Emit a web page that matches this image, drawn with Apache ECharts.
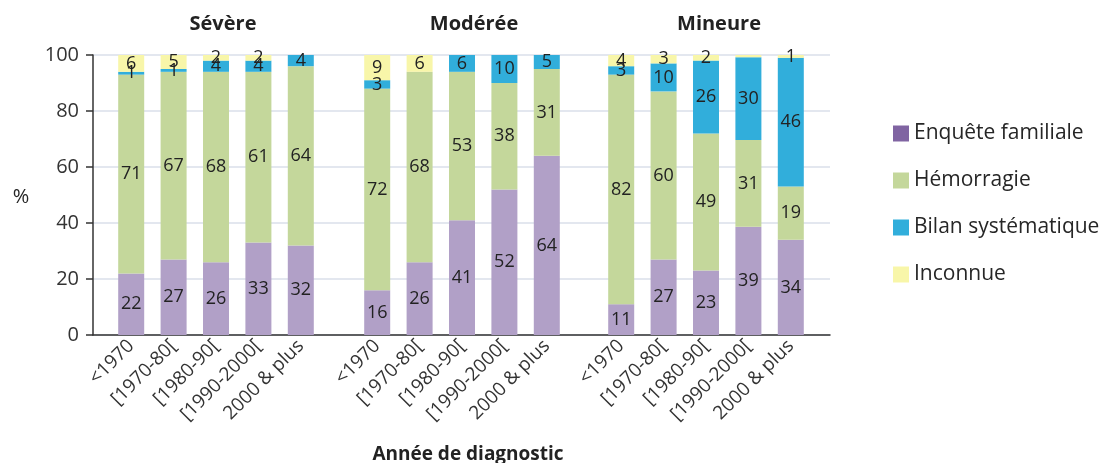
<!DOCTYPE html>
<html>
<head>
<meta charset="utf-8">
<script src="https://cdn.jsdelivr.net/npm/echarts@6/dist/echarts.min.js"></script>
<style>
  html, body { margin: 0; padding: 0; background: #fff; }
  #main { width: 1112px; height: 463px; }
</style>
</head>
<body>
<div id="main"></div>
<script>
var categories = ['<1970', '[1970-80[', '[1980-90[', '[1990-2000[', '2000 & plus'];
var groups = ['Sévère', 'Modérée', 'Mineure'];
var seriesNames = ['Enquête familiale', 'Hémorragie', 'Bilan systématique', 'Inconnue'];

// one row per group (Sévère, Modérée, Mineure); labels are rounded
var enquete = [[22, 27, 26, 33, 32], [16, 26, 41, 52, 64], [11, 27, 23, 38.7, 34]];
var hemorragie = [[71, 67, 68, 61, 64], [72, 68, 53, 38, 31], [82, 60, 49, 30.9, 19]];
var bilan = [[1, 1, 4, 4, 4], [3, 0, 6, 10, 5], [3, 10, 26, 29.6, 46]];
var inconnue = [[6, 5, 2, 2, 0], [9, 6, 0, 0, 0], [4, 3, 2, 0.8, 1]];
// [group, layer, bar] whose label is not printed in the source
var unlabelled = [[2, 3, 3]];

var yTicks = [0, 20, 40, 60, 80, 100];

var FONT = '"Open Sans", sans-serif';
var barColors = ['#b1a0c7', '#c4d79b', '#31aedb', '#f8f6a9'];
var legendColors = ['#8064a2', '#c4d79b', '#31aedb', '#f8f6a9'];
var layers = [enquete, hemorragie, bilan, inconnue];

// bar grids (left px, width px)
var gridPos = [[110, 212], [356, 212], [600, 212]];
var titleX = [223, 474, 719];

var grids = [{ left: 93, right: 282, top: 55, bottom: 128 }];
var xAxes = [{
  gridIndex: 0, type: 'value', min: 0, max: 1,
  axisLine: { show: true, lineStyle: { color: '#333', width: 1.5 } },
  axisTick: { show: false }, axisLabel: { show: false }, splitLine: { show: false }
}];
var yAxes = [{
  gridIndex: 0, type: 'value', min: yTicks[0], max: yTicks[yTicks.length - 1], interval: 20,
  axisLine: { show: true, lineStyle: { color: '#333', width: 1.5 } },
  axisTick: { show: true, length: 7, lineStyle: { color: '#333', width: 1.5 } },
  axisLabel: { fontSize: 20, color: '#333', margin: 14, fontFamily: FONT },
  splitLine: { show: true, lineStyle: { color: '#e3e7ef', width: 2 } }
}];
var series = [];

groups.forEach(function(g, gi) {
  grids.push({ left: gridPos[gi][0], width: gridPos[gi][1], top: 55, bottom: 128 });
  xAxes.push({
    gridIndex: gi + 1, type: 'category', data: categories,
    axisLine: { show: false }, axisTick: { show: false },
    axisLabel: { interval: 0, rotate: 45, fontSize: 19, color: '#333', margin: 8, fontFamily: FONT }
  });
  yAxes.push({
    gridIndex: gi + 1, type: 'value', min: 0, max: 100, show: false,
    splitLine: { show: false }
  });
  layers.forEach(function(layer, li) {
    var data = layer[gi].map(function(v, bi) {
      var hide = unlabelled.some(function(u) { return u[0] === gi && u[1] === li && u[2] === bi; });
      return hide ? { value: v, label: { show: false } } : v;
    });
    series.push({
      name: seriesNames[li],
      type: 'bar',
      xAxisIndex: gi + 1,
      yAxisIndex: gi + 1,
      stack: 'g' + gi,
      barWidth: 26,
      data: data,
      itemStyle: { color: barColors[li] },
      label: {
        show: true,
        position: 'inside',
        fontSize: 18,
        color: '#222',
        fontFamily: FONT,
        formatter: function(p) { return p.value ? Math.round(p.value) : ''; }
      }
    });
  });
});

var graphics = groups.map(function(g, gi) {
  return {
    type: 'text', x: titleX[gi], y: 24,
    style: { text: g, font: 'bold 20px ' + FONT, fill: '#222', textAlign: 'center', textVerticalAlign: 'middle' }
  };
});
graphics.push({
  type: 'text', x: 21, y: 197,
  style: { text: '%', font: '20px ' + FONT, fill: '#262626', textAlign: 'center', textVerticalAlign: 'middle' }
});
graphics.push({
  type: 'text', x: 468, y: 455,
  style: { text: 'Année de diagnostic', font: 'bold 19px ' + FONT, fill: '#222', textAlign: 'center', textVerticalAlign: 'middle' }
});

var myChart = echarts.init(document.getElementById('main'));
myChart.setOption({
  animation: false,
  textStyle: { fontFamily: FONT },
  grid: grids,
  xAxis: xAxes,
  yAxis: yAxes,
  legend: {
    orient: 'vertical',
    left: 888,
    top: 118,
    itemWidth: 16,
    itemHeight: 16,
    itemGap: 26,
    icon: 'rect',
    textStyle: { fontSize: 21, color: '#262626', fontFamily: FONT },
    data: seriesNames.map(function(n, i) {
      return { name: n, itemStyle: { color: legendColors[i] } };
    })
  },
  graphic: graphics,
  series: series
});
</script>
</body>
</html>
